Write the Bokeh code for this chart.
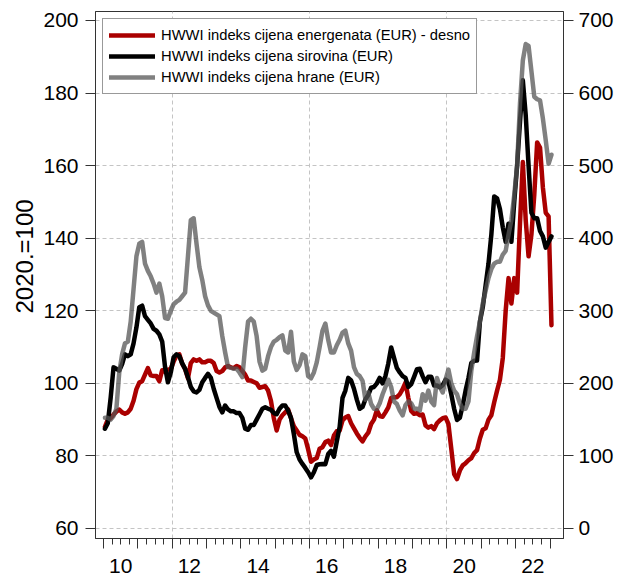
from bokeh.plotting import figure
from bokeh.models import (LinearAxis, Range1d, FixedTicker, Legend, LegendItem, Title)
from bokeh.embed import file_html
from bokeh.resources import INLINE

# HWWI energy price index (EUR), right axis
energy = [140, 150, 152, 157, 161, 164, 160, 158, 160, 165,
          176, 192, 201, 203, 212, 221, 211, 210, 210, 203,
          218, 216, 219, 220, 230, 238, 240, 227, 220, 207,
          228, 233, 231, 233, 229, 229, 231, 231, 228, 217,
          215, 217, 222, 224, 222, 221, 224, 222, 217, 212,
          204, 204, 202, 200, 194, 195, 196, 190, 176, 152,
          135, 150, 156, 160, 164, 152, 141, 135, 129, 127,
          124, 109, 92, 95, 97, 110, 112, 119, 121, 115,
          128, 134, 135, 149, 153, 155, 145, 138, 131, 125,
          120, 127, 132, 144, 150, 163, 155, 154, 160, 167,
          180, 181, 181, 185, 192, 201, 180, 162, 158, 159,
          156, 157, 142, 139, 141, 137, 145, 149, 152, 153,
          144, 110, 75, 68, 80, 87, 90, 94, 97, 104,
          108, 124, 136, 138, 150, 156, 174, 190, 205, 235,
          300, 345, 310, 345, 325, 420, 505, 425, 375, 405,
          460, 532, 525, 470, 435, 430, 280]

# HWWI raw materials price index (EUR), left axis
raw = [87.5, 89, 96, 104.4, 104, 103.5, 105.3, 108, 107.5, 108,
       111, 115.4, 121, 121.4, 118.5, 117.5, 116.5, 115, 114.5, 113.5,
       111.5, 104.5, 100.3, 103, 107.2, 108, 107.5, 105.5, 104, 101.7,
       99, 97.8, 97.5, 98.2, 100.3, 101.5, 102.6, 101.5, 98.5, 96,
       93.5, 92, 93.9, 92.8, 92.3, 92.3, 91.8, 91.8, 90.5, 87.5,
       87.2, 88.5, 88.5, 90, 91.5, 93, 93.4, 93, 92.7, 91.8,
       91.5, 93, 93.9, 93.9, 92.5, 90.5, 86, 81, 79, 77.8,
       76.7, 75.5, 74.1, 75.5, 77.5, 77.7, 77.8, 77.7, 80.5, 81.4,
       79.8, 84, 88, 96, 98, 101.5, 100.8, 98.5, 95.5, 93,
       93.5, 95.6, 96.8, 98.8, 99, 100, 101.5, 100, 102, 105.5,
       109.9, 107, 104.2, 103, 102, 101.5, 99, 99.8, 101.8, 103.9,
       104, 102, 100.3, 101.8, 101.8, 99.4, 99.4, 98.9, 99.5, 101,
       100.5, 97, 93, 89.9, 90.5, 94, 98, 101.5, 105.6, 106.2,
       106.3, 117, 121, 127, 133, 141, 151.5, 151, 148, 143,
       139, 144, 139, 150, 160, 172, 183.5, 174, 160, 147,
       145.5, 145.5, 142, 140.5, 137.4, 139, 140.5]

# HWWI food price index (EUR), left axis
food = [90.5, 90.5, 90, 91, 93, 103, 108, 111, 111.5, 117,
        126, 135, 138.5, 139, 133, 131, 129.5, 127.5, 125, 127.5,
        124, 118, 117.8, 120, 121.8, 122.5, 123, 124, 125, 135,
        145, 145.5, 138.5, 132, 128.5, 124, 121.5, 120, 119.5, 119,
        118.5, 113, 108.5, 104.5, 104.3, 104, 104, 103, 101.7, 110,
        117, 117.8, 117, 113, 106, 103.5, 104, 107.5, 110, 111.5,
        112, 112.7, 113.2, 109, 108.5, 114.2, 106, 103.7, 105, 108,
        107.5, 102, 101.4, 103, 105.8, 110, 114.5, 116.5, 112, 108.5,
        108.5, 110.5, 112, 114, 114.5, 111, 109, 104.5, 102.6, 102,
        100.7, 95.5, 97.5, 94.3, 93, 92.9, 94.5, 97, 99, 101,
        99, 95, 94.3, 92.5, 91.2, 94, 95, 94.5, 93, 93,
        92.5, 97, 95.2, 98, 95, 94, 101.5, 99, 97.5, 101,
        103.8, 100, 98, 97, 94.5, 92.9, 93, 95, 103.5, 108.5,
        113, 117, 122, 125.5, 129, 131.5, 133, 133.5, 133.5, 135.5,
        136.5, 141, 145, 152, 160, 177, 189, 193.5, 193, 186,
        179, 178.3, 178, 173, 167, 160.5, 163]

series_labels = ["HWWI indeks cijena energenata (EUR) - desno",
                 "HWWI indeks cijena sirovina (EUR)",
                 "HWWI indeks cijena hrane (EUR)"]
y_axis_label = "2020.=100"

start_year = 2010
years = list(range(2010, 2024))
label_years = [2010, 2012, 2014, 2016, 2018, 2020, 2022]
year_labels = ["10", "12", "14", "16", "18", "20", "22"]
left_ticks = [60, 80, 100, 120, 140, 160, 180, 200]
right_ticks = [0, 100, 200, 300, 400, 500, 600, 700]
grid_years = [2012, 2016, 2020]

# monthly positions (mid-month, decimal years)
months = [start_year + (i + 0.5) / 12 for i in range(len(food))]

FONT = "Liberation Sans"
AX = "#333333"

p = figure(width=617, height=579, output_backend="svg", toolbar_location=None,
           x_range=Range1d(2009.767, 2023.392), y_range=Range1d(57.24, 202.48),
           min_border_left=95, min_border_right=54, min_border_top=11,
           min_border_bottom=41)
p.extra_y_ranges = {"right": Range1d(-13.8, 712.4)}
p.outline_line_color = AX
p.outline_line_width = 1
p.background_fill_color = "white"
p.border_fill_color = "white"

r_en = p.line(months, energy, y_range_name="right", line_color="#AA0000",
              line_width=4.5, line_join="round", line_cap="round")
r_raw = p.line(months, raw, line_color="#000000", line_width=4.5,
               line_join="round", line_cap="round")
r_food = p.line(months, food, line_color="#555555", line_alpha=0.75,
                line_width=4.5, line_join="round", line_cap="round")

# bottom axis 1: quarterly short ticks only (no major ticks, so no labels)
quarters = [y + q / 4 for y in years[:-1] for q in (1, 2, 3)]
xa = p.xaxis[0]
xa.ticker = FixedTicker(ticks=[], minor_ticks=quarters)
xa.major_label_standoff = 0
xa.major_tick_out = 0
xa.major_tick_in = 0
xa.minor_tick_out = 6
xa.minor_tick_in = 0
xa.axis_line_color = AX
xa.minor_tick_line_color = AX

# bottom axis 2: long year ticks (reaching up to the frame) + labels mid-year
label_pos = [y + 0.5 for y in label_years]
xa2 = LinearAxis(ticker=FixedTicker(ticks=label_pos, minor_ticks=years),
                 major_label_overrides={pos: lab for pos, lab in zip(label_pos, year_labels)},
                 major_tick_line_color=None, major_tick_out=0, major_tick_in=0,
                 minor_tick_line_color=AX, minor_tick_in=6, minor_tick_out=4,
                 axis_line_color=None,
                 major_label_standoff=10, major_label_text_font_size="21px",
                 major_label_text_font=FONT, major_label_text_color="black")
p.add_layout(xa2, "below")

ya = p.yaxis[0]
ya.ticker = FixedTicker(ticks=left_ticks)
ya.major_tick_out = 10
ya.major_tick_in = 0
ya.minor_tick_line_color = None
ya.axis_line_color = AX
ya.major_tick_line_color = AX
ya.major_label_standoff = 7
ya.major_label_text_font_size = "21px"
ya.major_label_text_font = FONT
ya.major_label_text_color = "black"

yr = LinearAxis(y_range_name="right", ticker=FixedTicker(ticks=right_ticks),
                major_tick_out=10, major_tick_in=0, minor_tick_line_color=None,
                axis_line_color=AX, major_tick_line_color=AX,
                major_label_standoff=5, major_label_text_font_size="21px",
                major_label_text_font=FONT, major_label_text_color="black")
p.add_layout(yr, "right")

t = Title(text=y_axis_label, align="left", text_font_size="24px",
          text_font_style="normal", text_font=FONT, text_color="black",
          standoff=6, offset=225)
p.add_layout(t, "left")

p.xgrid.ticker = FixedTicker(ticks=grid_years)
p.ygrid.ticker = FixedTicker(ticks=left_ticks)
for g in (p.xgrid, p.ygrid):
    g.grid_line_color = "#c4c4c4"
    g.grid_line_dash = "4 3"
    g.grid_line_width = 1

legend = Legend(items=[LegendItem(label=series_labels[0], renderers=[r_en]),
                       LegendItem(label=series_labels[1], renderers=[r_raw]),
                       LegendItem(label=series_labels[2], renderers=[r_food])],
                location="top_left", margin=7, padding=6, spacing=1,
                glyph_width=46, glyph_height=20, label_height=20,
                label_standoff=6, label_text_font=FONT,
                label_text_font_size="14.75px", label_text_color="black",
                border_line_color=AX, border_line_width=1,
                background_fill_color="white", background_fill_alpha=1)
p.add_layout(legend)

open("out.html", "w").write(file_html(p, INLINE))
